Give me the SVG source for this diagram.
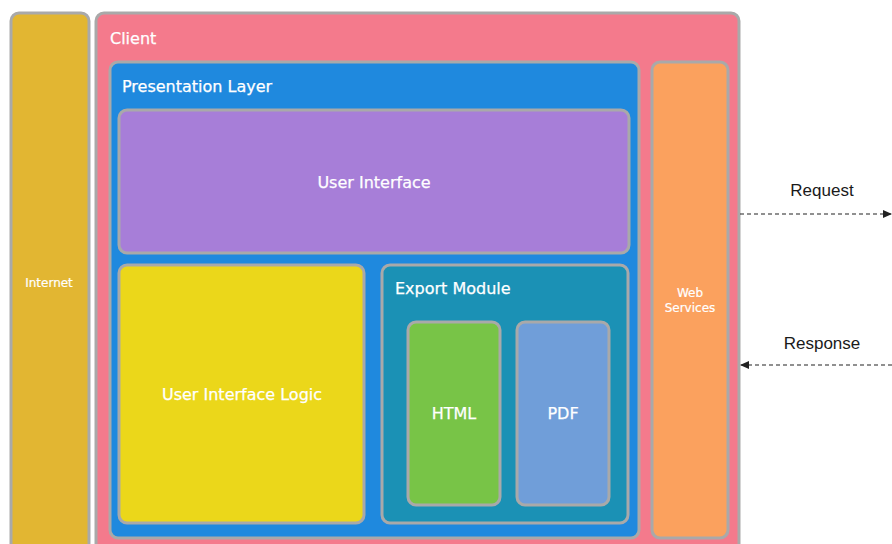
<svg xmlns="http://www.w3.org/2000/svg" width="892" height="544" viewBox="0 0 892 544">
<style>
.box{stroke:#A9A9A9;stroke-width:3}
.lbl{font-family:"DejaVu Sans",Verdana,sans-serif;fill:#FFFFFF;font-size:16px;stroke:#FFFFFF;stroke-width:0.25}
.sm{font-size:12px;stroke-width:0.2}
.ctr{text-anchor:middle}
.ext{font-family:"Liberation Sans",Arial,sans-serif;font-size:17px;fill:#1a1a1a;text-anchor:middle}
.conn{stroke:#222;stroke-width:1.2;stroke-dasharray:4 3;fill:none}
</style>
<defs>
<marker id="ah" markerWidth="10" markerHeight="10" refX="9" refY="5" orient="auto" markerUnits="userSpaceOnUse">
<path d="M0,1 L9,5 L0,9 Z" fill="#222"/>
</marker>
</defs>
<rect width="892" height="544" fill="#FFFFFF"/>
<g id="internet">
<rect class="box" x="11" y="13" width="78" height="545" rx="8" fill="#E2B632"/>
<text class="lbl sm ctr" x="49" y="287">Internet</text>
</g>
<g id="client">
<rect class="box" x="96" y="13" width="643" height="545" rx="8" fill="#F47A8C"/>
<text class="lbl" x="110" y="44">Client</text>
</g>
<g id="presentation-layer">
<rect class="box" x="110" y="62" width="529" height="476" rx="8" fill="#1F89DE"/>
<text class="lbl" x="122" y="92">Presentation Layer</text>
</g>
<g id="user-interface">
<rect class="box" x="119" y="110" width="510" height="143" rx="8" fill="#A77ED8"/>
<text class="lbl ctr" x="374" y="188">User Interface</text>
</g>
<g id="user-interface-logic">
<rect class="box" x="119" y="265" width="245" height="258" rx="8" fill="#EBD71A"/>
<text class="lbl ctr" x="242" y="400">User Interface Logic</text>
</g>
<g id="export-module">
<rect class="box" x="382" y="265" width="246" height="258" rx="8" fill="#1B91B5"/>
<text class="lbl" x="395" y="294">Export Module</text>
</g>
<g id="html">
<rect class="box" x="408" y="322" width="92" height="183" rx="8" fill="#78C447"/>
<text class="lbl ctr" x="454" y="419">HTML</text>
</g>
<g id="pdf">
<rect class="box" x="517" y="322" width="92" height="183" rx="8" fill="#709ED9"/>
<text class="lbl ctr" x="563" y="419">PDF</text>
</g>
<g id="web-services">
<rect class="box" x="652" y="62" width="76" height="476" rx="8" fill="#FBA15E"/>
<text class="lbl sm ctr" x="690" y="297">Web</text>
<text class="lbl sm ctr" x="690" y="312">Services</text>
</g>
<g id="connectors">
<line class="conn" x1="740" y1="214" x2="892" y2="214" marker-end="url(#ah)"/>
<text class="ext" x="822" y="196">Request</text>
<line class="conn" x1="892" y1="365" x2="740" y2="365" marker-end="url(#ah)"/>
<text class="ext" x="822" y="349">Response</text>
</g>
</svg>
